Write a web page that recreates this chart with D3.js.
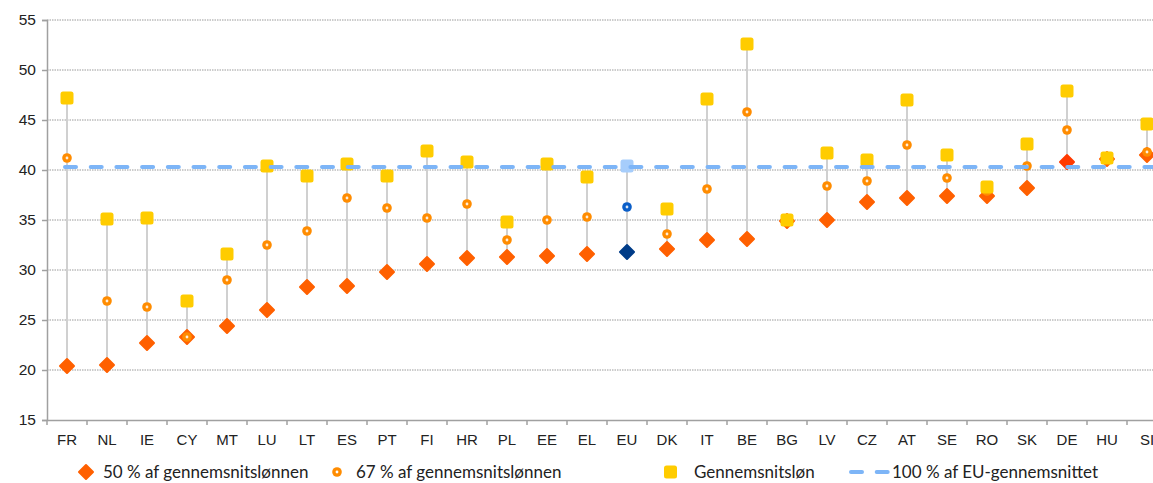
<!DOCTYPE html>
<html>
<head>
<meta charset="utf-8">
<script src="https://cdn.jsdelivr.net/npm/d3@7.9.0/dist/d3.min.js"></script>
<style>
  body { margin: 0; background: #fff; }
  svg { display: block; font-family: Lato, "Open Sans", sans-serif; }
</style>
</head>
<body>
<svg id="chart"></svg>
<script>
let categories = ['FR', 'NL', 'IE', 'CY', 'MT', 'LU', 'LT', 'ES', 'PT', 'FI', 'HR', 'PL', 'EE', 'EL',
  'EU', 'DK', 'IT', 'BE', 'BG', 'LV', 'CZ', 'AT', 'SE', 'RO', 'SK', 'DE', 'HU', 'SI'];

let pct50 = [20.4, 20.5, 22.7, 23.3, 24.4, 26.0, 28.3, 28.4, 29.8, 30.6, 31.2, 31.3, 31.4, 31.6,
  31.8, 32.1, 33.0, 33.1, 34.9, 35.0, 36.8, 37.2, 37.4, 37.4, 38.2, 40.8, 41.1, 41.5];

let pct67 = [41.2, 26.9, 26.3, 23.3, 29.0, 32.5, 33.9, 37.2, 36.2, 35.2, 36.6, 33.0, 35.0, 35.3,
  36.3, 33.6, 38.1, 45.8, 35.0, 38.4, 38.9, 42.5, 39.2, 37.9, 40.4, 44.0, 41.2, 41.8];

let average = [47.2, 35.1, 35.2, 26.9, 31.6, 40.4, 39.4, 40.6, 39.4, 41.9, 40.8, 34.8, 40.6, 39.3,
  40.4, 36.1, 47.1, 52.6, 35.0, 41.7, 41.0, 47.0, 41.5, 38.3, 42.6, 47.9, 41.2, 44.6];

let euAverage = 40.3;

let yTicks = [15, 20, 25, 30, 35, 40, 45, 50, 55];

let legendLabels = ['50 % af gennemsnitslønnen', '67 % af gennemsnitslønnen', 'Gennemsnitsløn', '100 % af EU-gennemsnittet'];

let data = categories.map((c, i) => ({ cat: c, p50: pct50[i], p67: pct67[i], avg: average[i] }));

let svg = d3.select('#chart').attr('width', 1153).attr('height', 483);
let margin = { top: 20, left: 47 };
let width = 1120;
let height = 400;
let g = svg.append('g').attr('transform', `translate(${margin.left},${margin.top})`);

let x = d3.scaleBand().domain(categories).range([0, width]);
let y = d3.scaleLinear().domain([15, 55]).range([height, 0]);
let cx = d => x(d.cat) + x.bandwidth() / 2;

// gridlines
g.append('g')
  .selectAll('line')
  .data(yTicks.slice(1))
  .join('line')
  .attr('x1', 0).attr('x2', width)
  .attr('y1', d => y(d)).attr('y2', d => y(d))
  .attr('stroke', '#999')
  .attr('stroke-width', 1)
  .attr('stroke-dasharray', '1.5,1');

// axes
let yAxis = g.append('g').call(d3.axisLeft(y).tickValues(yTicks).tickSize(5).tickPadding(6));
yAxis.select('.domain').attr('stroke', '#a0a0a0').attr('stroke-width', 1.5);
yAxis.selectAll('.tick line').attr('stroke', '#a0a0a0').attr('stroke-width', 1.5);
yAxis.selectAll('.tick text').attr('font-size', 15.5).attr('fill', '#222');

let xAxis = g.append('g').attr('transform', `translate(0,${height})`)
  .call(d3.axisBottom(x).tickSize(0).tickPadding(14));
xAxis.select('.domain').attr('stroke', '#a0a0a0').attr('stroke-width', 1.5);
xAxis.selectAll('.tick text').attr('font-size', 15).attr('fill', '#222');
g.append('g')
  .selectAll('line')
  .data(categories)
  .join('line')
  .attr('x1', d => x(d)).attr('x2', d => x(d))
  .attr('y1', height).attr('y2', height + 5)
  .attr('stroke', '#a0a0a0').attr('stroke-width', 1.5);

// drop lines
g.append('g')
  .selectAll('line')
  .data(data)
  .join('line')
  .attr('x1', cx).attr('x2', cx)
  .attr('y1', d => y(Math.min(d.p50, d.p67, d.avg)))
  .attr('y2', d => y(Math.max(d.p50, d.p67, d.avg)))
  .attr('stroke', '#d0d0d0')
  .attr('stroke-width', 2);

let diamond = 'M0,-7 L7,0 L0,7 L-7,0 Z';
let p50Color = d => d.cat === 'EU' ? '#003c88' : d.cat === 'DE' ? '#ff3a00' : '#ff6000';
let p67Color = d => d.cat === 'EU' ? '#0a5ec8' : '#ff8c00';
let avgColor = d => d.cat === 'EU' ? '#a6cdfb' : '#ffcc00';

g.append('g')
  .selectAll('path')
  .data(data)
  .join('path')
  .attr('d', diamond)
  .attr('transform', d => `translate(${cx(d)},${y(d.p50)})`)
  .attr('fill', p50Color)
  .attr('stroke', p50Color)
  .attr('stroke-width', 2)
  .attr('stroke-linejoin', 'round');

let rings = g.append('g')
  .selectAll('g')
  .data(data)
  .join('g')
  .attr('transform', d => `translate(${cx(d)},${y(d.p67)})`);
rings.append('circle').attr('r', 4.8).attr('fill', p67Color);
rings.append('circle').attr('r', 1.4).attr('fill', '#fff').attr('opacity', 0.85);

g.append('g')
  .selectAll('rect')
  .data(data)
  .join('rect')
  .attr('x', d => cx(d) - 6.5)
  .attr('y', d => y(d.avg) - 6.5)
  .attr('width', 13).attr('height', 13)
  .attr('rx', 2.5)
  .attr('fill', avgColor);

// EU reference line
g.append('line')
  .attr('x1', cx(data[0]) - 2).attr('x2', width)
  .attr('y1', y(euAverage)).attr('y2', y(euAverage))
  .attr('stroke', '#7db5f7')
  .attr('stroke-width', 4)
  .attr('stroke-linecap', 'round')
  .attr('stroke-dasharray', '11,14.7');

// legend
let ly = 472;
let legend = svg.append('g').attr('font-size', 17).attr('fill', '#222');
legend.append('path').attr('d', diamond).attr('transform', `translate(86,${ly})`)
  .attr('fill', '#ff6000').attr('stroke', '#ff6000').attr('stroke-width', 2).attr('stroke-linejoin', 'round');
legend.append('text').attr('x', 103).attr('y', ly + 6).text(legendLabels[0]);

legend.append('circle').attr('cx', 337).attr('cy', ly).attr('r', 4.8).attr('fill', '#ff8c00');
legend.append('circle').attr('cx', 337).attr('cy', ly).attr('r', 1.4).attr('fill', '#fff');
legend.append('text').attr('x', 356).attr('y', ly + 6).text(legendLabels[1]);

legend.append('rect').attr('x', 664).attr('y', ly - 6.5).attr('width', 13).attr('height', 13)
  .attr('rx', 2.5).attr('fill', '#ffcc00');
legend.append('text').attr('x', 694).attr('y', ly + 6).text(legendLabels[2]);

legend.append('line').attr('x1', 851).attr('x2', 888).attr('y1', ly).attr('y2', ly)
  .attr('stroke', '#7db5f7').attr('stroke-width', 4).attr('stroke-linecap', 'round')
  .attr('stroke-dasharray', '11,14.7');
legend.append('text').attr('x', 892).attr('y', ly + 6).text(legendLabels[3]);
</script>
</body>
</html>
